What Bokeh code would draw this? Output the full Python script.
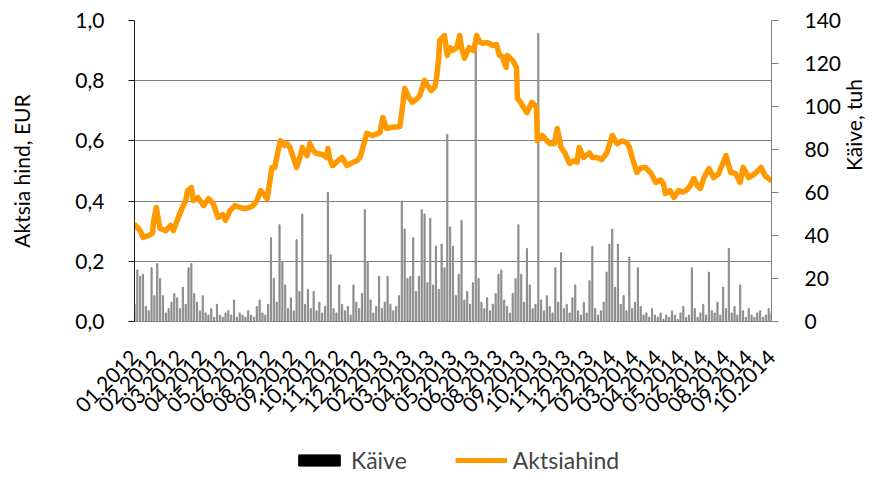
import math
from bokeh.plotting import figure
from bokeh.layouts import column
from bokeh.models import (Range1d, LinearAxis, FixedTicker, CustomJSTickFormatter,
                          Legend, LegendItem)
from bokeh.embed import file_html
from bokeh.resources import INLINE

# ---------------- data ----------------
x_labels = ["01.2012", "02.2012", "03.2012", "04.2012", "05.2012", "06.2012", "08.2012",
            "09.2012", "10.2012", "11.2012", "12.2012", "02.2013", "03.2013", "04.2013",
            "05.2013", "06.2013", "08.2013", "09.2013", "10.2013", "11.2013", "12.2013",
            "02.2014", "03.2014", "04.2014", "05.2014", "06.2014", "08.2014", "09.2014",
            "10.2014"]
label_step = 24          # trading days between labels
vol_step = 3             # trading days between volume samples

volume = [8, 24, 21, 22, 7, 5, 25, 12, 27, 20, 12, 4, 6, 9, 13,
          11, 6, 16, 8, 25, 27, 13, 9, 5, 12, 4, 3, 6, 2, 8,
          3, 2, 4, 5, 3, 10, 2, 4, 3, 2, 5, 3, 2, 7, 10,
          4, 3, 8, 39, 20, 9, 45, 28, 17, 6, 11, 5, 38, 14, 50,
          8, 15, 6, 14, 5, 9, 4, 7, 60, 31, 6, 4, 17, 8, 5,
          7, 3, 17, 9, 6, 13, 52, 28, 10, 4, 7, 21, 6, 9, 21,
          8, 5, 7, 12, 56, 43, 20, 21, 39, 14, 21, 52, 50, 18, 48,
          17, 35, 15, 36, 25, 87, 44, 35, 12, 22, 47, 10, 14, 8, 18,
          126, 20, 9, 6, 11, 5, 8, 13, 22, 24, 10, 7, 4, 13, 20,
          45, 22, 9, 34, 17, 6, 8, 134, 10, 5, 12, 7, 4, 25, 9,
          32, 6, 8, 4, 11, 17, 5, 3, 9, 4, 19, 35, 6, 3, 5,
          9, 23, 36, 43, 16, 36, 8, 12, 5, 30, 6, 9, 25, 7, 3,
          4, 2, 6, 3, 2, 4, 1, 3, 2, 5, 3, 1, 4, 7, 2,
          3, 25, 6, 2, 4, 8, 3, 23, 5, 4, 9, 3, 16, 6, 34,
          4, 7, 3, 17, 5, 2, 6, 3, 2, 4, 5, 2, 3, 6, 4]

price_day = [1, 6, 9, 14, 19, 20, 23, 25, 27, 33,
             38, 41, 45, 50, 54, 56, 60, 62, 67, 73,
             78, 83, 88, 93, 96, 101, 106, 112, 117, 122,
             125, 129, 133, 137, 140, 143, 145, 148, 151, 154,
             158, 161, 164, 167, 171, 175, 177, 182, 185, 188,
             192, 198, 203, 204, 206, 209, 215, 219, 222, 224,
             230, 235, 238, 242, 245, 251, 257, 259, 262, 266,
             272, 280, 283, 285, 290, 293, 298, 301, 306, 309,
             313, 317, 319, 321, 322, 327, 330, 333, 335, 340,
             343, 345, 348, 353, 358, 361, 364, 367, 372, 378,
             382, 385, 388, 392, 393, 399, 403, 404, 407, 409,
             414, 419, 422, 424, 425, 430, 438, 443, 446, 450,
             454, 459, 464, 467, 469, 474, 480, 483, 488, 493,
             498, 504, 509, 514, 519, 522, 525, 530, 534, 539,
             545, 550, 555, 558, 560, 565, 569, 574, 578, 582,
             586, 590, 594, 597, 601, 606, 611, 616, 620, 624,
             629, 634, 639, 642, 648, 655, 661, 665, 671]

price = [0.319, 0.302, 0.279, 0.285, 0.292, 0.33, 0.379, 0.34, 0.309, 0.302,
         0.319, 0.302, 0.336, 0.375, 0.40, 0.435, 0.445, 0.402, 0.412, 0.385,
         0.408, 0.392, 0.346, 0.355, 0.336, 0.369, 0.385, 0.378, 0.375, 0.38,
         0.385, 0.40, 0.435, 0.42, 0.408, 0.47, 0.512, 0.512, 0.56, 0.601,
         0.585, 0.591, 0.578, 0.55, 0.512, 0.55, 0.578, 0.551, 0.591, 0.57,
         0.558, 0.555, 0.545, 0.575, 0.54, 0.518, 0.535, 0.545, 0.53, 0.518,
         0.528, 0.535, 0.545, 0.59, 0.625, 0.618, 0.625, 0.628, 0.678, 0.641,
         0.645, 0.648, 0.72, 0.774, 0.741, 0.728, 0.74, 0.751, 0.801, 0.785,
         0.767, 0.78, 0.817, 0.88, 0.934, 0.950, 0.884, 0.91, 0.900, 0.91,
         0.950, 0.91, 0.874, 0.910, 0.90, 0.950, 0.93, 0.924, 0.927, 0.917,
         0.92, 0.884, 0.88, 0.844, 0.884, 0.867, 0.844, 0.741, 0.73, 0.718,
         0.694, 0.728, 0.72, 0.711, 0.601, 0.618, 0.591, 0.591, 0.641, 0.578,
         0.56, 0.525, 0.535, 0.53, 0.578, 0.545, 0.56, 0.545, 0.545, 0.538,
         0.558, 0.618, 0.591, 0.60, 0.595, 0.58, 0.545, 0.495, 0.51, 0.512,
         0.492, 0.462, 0.47, 0.458, 0.425, 0.435, 0.412, 0.435, 0.43, 0.435,
         0.45, 0.475, 0.45, 0.442, 0.48, 0.508, 0.478, 0.49, 0.52, 0.551,
         0.495, 0.492, 0.462, 0.512, 0.478, 0.492, 0.512, 0.485, 0.47]

price_ticks = [0.0, 0.2, 0.4, 0.6, 0.8, 1.0]
vol_ticks = [0, 20, 40, 60, 80, 100, 120, 140]

# ---------------- main figure ----------------
FONT = "Lato"
x_end = label_step * (len(x_labels) - 1)
vol_x = [i * vol_step for i in range(len(volume))]
label_pos = [i * label_step for i in range(len(x_labels))]

p = figure(width=881, height=425, output_backend="svg", toolbar_location=None,
           x_range=Range1d(0, x_end), y_range=Range1d(0, 1),
           min_border_left=134, min_border_right=108, min_border_top=20,
           min_border_bottom=104)
p.extra_y_ranges = {"vol": Range1d(0, 140)}
p.outline_line_color = None
p.background_fill_color = "white"
p.border_fill_color = "white"

# grid
p.xgrid.visible = False
p.ygrid.ticker = FixedTicker(ticks=price_ticks[1:])
p.ygrid.grid_line_color = "#000000"
p.ygrid.grid_line_dash = "1 1"
p.ygrid.grid_line_width = 1

# left axis
ya = p.left[0]
ya.ticker = FixedTicker(ticks=price_ticks)
ya.formatter = CustomJSTickFormatter(code="return tick.toFixed(1).replace('.', ',');")
ya.axis_label = "Aktsia hind, EUR"
ya.axis_line_color = "#1a1a1a"
ya.major_tick_line_color = "#1a1a1a"
ya.major_tick_out = 6
ya.major_tick_in = 0
ya.minor_tick_line_color = None
ya.major_label_standoff = 24
ya.axis_label_standoff = 38

# right axis
ra = LinearAxis(y_range_name="vol", ticker=FixedTicker(ticks=vol_ticks),
                axis_label="Käive, tuh")
ra.axis_line_color = "#7f7f7f"
ra.major_tick_line_color = "#7f7f7f"
ra.major_tick_out = 7
ra.major_tick_in = 0
ra.minor_tick_line_color = None
ra.major_label_standoff = 26
ra.axis_label_standoff = 9
ra.axis_label_text_line_height = 1.0
ra.axis_label_orientation = math.pi / 2
p.add_layout(ra, "right")

# bottom axis
xa = p.below[0]
xa.ticker = FixedTicker(ticks=label_pos)
xa.major_label_overrides = {pos: lab for pos, lab in zip(label_pos, x_labels)}
xa.major_label_orientation = math.pi / 4
xa.axis_line_color = "#868686"
xa.major_tick_line_color = None
xa.major_tick_out = 0
xa.major_tick_in = 0
xa.minor_tick_line_color = None
xa.major_label_standoff = 32

for ax in (ya, ra, xa):
    ax.major_label_text_font = FONT
    ax.major_label_text_font_size = "21px"
    ax.major_label_text_color = "black"
    ax.axis_label_text_font = FONT
    ax.axis_label_text_font_size = "21px"
    ax.axis_label_text_font_style = "normal"
    ax.axis_label_text_color = "black"

p.vbar(x=vol_x, top=volume, width=1.2, bottom=0, color="#8c8c8c",
       y_range_name="vol")
p.line(price_day, price, line_color="#FF9900", line_width=5.5,
       line_join="round", line_cap="round")

# ---------------- legend strip ----------------
nan = float("nan")
lg = figure(width=881, height=52, output_backend="svg", toolbar_location=None,
            x_range=Range1d(0, 1), y_range=Range1d(0, 1),
            x_axis_location=None, y_axis_location=None,
            min_border_left=134, min_border_right=108, min_border_top=0,
            min_border_bottom=0)
lg.grid.visible = False
lg.outline_line_color = None
box = lg.vbar(x=[nan], top=[nan], bottom=[nan], width=0.1, color="black")
ln = lg.line(x=[nan, nan], y=[nan, nan], line_color="#FF9900", line_width=5)
legend = Legend(items=[LegendItem(label="Käive", renderers=[box]),
                       LegendItem(label="Aktsiahind", renderers=[ln])],
                orientation="horizontal", location=(159, 3),
                border_line_color=None, background_fill_alpha=0,
                label_text_font=FONT, label_text_font_size="23px",
                glyph_width=52, glyph_height=14, spacing=48, label_standoff=6,
                padding=0, margin=0)
lg.add_layout(legend, "center")

layout = column(p, lg, spacing=0)
open("out.html", "w").write(file_html(layout, INLINE))
